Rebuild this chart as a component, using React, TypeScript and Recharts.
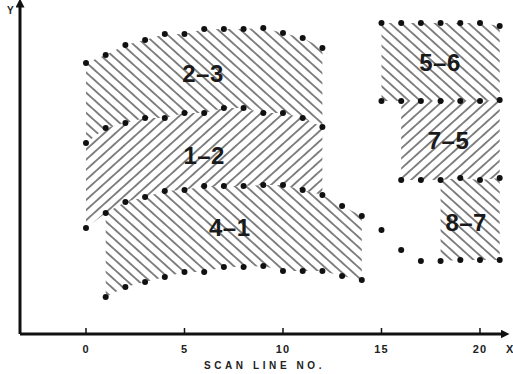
import React from 'react';
import { ComposedChart, XAxis, YAxis, Area, Line, ReferenceDot, Label } from 'recharts';

// scan line numbers where each row of dots starts
const scanTicks = [0, 5, 10, 15, 20];

// heights of the dot rows above the X axis (arbitrary units)
const rowTop23 = [271, 279, 289, 294, 300, 300, 305, 305, 305, 306, 301, 296, 286]; // lines 0-12
const row23to12 = [191, 206, 211, 216, 216, 221, 221, 226, 226, 221, 221, 216, 207]; // lines 0-12
const row12to41 = [106, 121, 132, 137, 143, 144, 148, 148, 148, 149, 149, 144, 139, 128, 118, 104, 84, 73, 73, 74, 74, 74]; // lines 0-21
const rowBottom41 = [37, 47, 52, 57, 62, 62, 67, 67, 68, 63, 63, 63, 58, 54]; // lines 1-14
const rowTop56 = [311, 311, 311, 311, 311, 311, 308]; // lines 15-21
const row56to75 = [233, 233, 233, 233, 233, 233, 234]; // lines 15-21
const row75to87 = [154, 154, 154, 156, 154, 156]; // lines 16-21

const regionLabels = [
  { text: '2–3', x: 5.94, y: 261 },
  { text: '1–2', x: 6.0, y: 179 },
  { text: '4–1', x: 7.3, y: 107 },
  { text: '5–6', x: 17.97, y: 272 },
  { text: '7–5', x: 18.4, y: 194 },
  { text: '8–7', x: 19.3, y: 112 },
];

const pts = (start: number, arr: number[]) => arr.map((y, i) => ({ x: start + i, y }));

// range band between two rows, for scan lines from..to
const band = (from: number, to: number, lo: number[], loStart: number, hi: number[], hiStart: number) => {
  const out = [];
  for (let x = from; x <= to; x++) out.push({ x, r: [lo[x - loStart], hi[x - hiStart]] });
  return out;
};

const regions = [
  { id: 'r23', data: band(0, 12, row23to12, 0, rowTop23, 0), fill: 'url(#hatchBack)' },
  { id: 'r12', data: band(0, 12, row12to41, 0, row23to12, 0), fill: 'url(#hatchFwd)' },
  { id: 'r41', data: band(1, 14, rowBottom41, 1, row12to41, 0), fill: 'url(#hatchBack)' },
  { id: 'r56', data: band(15, 21, row56to75, 15, rowTop56, 15), fill: 'url(#hatchBack)' },
  { id: 'r75', data: band(16, 21, row75to87, 16, row56to75, 15), fill: 'url(#hatchFwd)' },
  { id: 'r87', data: band(18, 21, row12to41, 0, row75to87, 16), fill: 'url(#hatchBack)' },
];

const dotRows = [
  pts(0, rowTop23),
  pts(0, row23to12),
  pts(0, row12to41),
  pts(1, rowBottom41),
  pts(15, rowTop56),
  pts(15, row56to75),
  pts(16, row75to87),
];

const font = '"Liberation Sans", Arial, sans-serif';

const ScanTick = (p: any) => (
  <g>
    <line x1={p.x} x2={p.x} y1={p.y - 6} y2={p.y} stroke="#111" strokeWidth={1.5} />
    <text x={p.x} y={p.y + 19} textAnchor="middle" fontSize={11} fontWeight="bold" fontFamily={font} fill="#222" letterSpacing={1}>
      {p.payload.value}
    </text>
  </g>
);

export default function App() {
  return (
    <div style={{ position: 'absolute', left: 0, top: 0, background: '#fff' }}>
      <ComposedChart width={513} height={374} margin={{ top: 3, right: 8, bottom: 0, left: 19 }}>
        <defs>
          <pattern id="hatchBack" patternUnits="userSpaceOnUse" width="7.5" height="7.5" patternTransform="rotate(-48)">
            <line x1="3.75" y1="0" x2="3.75" y2="7.5" stroke="#333" strokeWidth="1.2" />
          </pattern>
          <pattern id="hatchFwd" patternUnits="userSpaceOnUse" width="7.5" height="7.5" patternTransform="rotate(48)">
            <line x1="3.75" y1="0" x2="3.75" y2="7.5" stroke="#333" strokeWidth="1.2" />
          </pattern>
          <marker id="arrowHead" viewBox="0 0 10 10" refX="5" refY="5" markerWidth="3" markerHeight="3" orient="auto-start-reverse">
            <path d="M0,0 L10,5 L0,10 z" fill="#111" />
          </marker>
        </defs>
        <XAxis
          dataKey="x"
          type="number"
          domain={[-3.35, 21.27]}
          ticks={scanTicks}
          allowDataOverflow
          height={40}
          tickSize={0}
          tickMargin={0}
          tickLine={false}
          tick={<ScanTick />}
          axisLine={{ stroke: '#111', strokeWidth: 3, markerEnd: 'url(#arrowHead)' }}
        >
          <Label
            content={(props: any) => {
              const vb = props.viewBox;
              return (
                <g fontFamily={font} fontWeight="bold" fill="#222">
                  <text x={vb.x + vb.width / 2 + 2} y={vb.y + 35} textAnchor="middle" fontSize={10} letterSpacing={3.6}>
                    SCAN LINE NO.
                  </text>
                  <text x={vb.x + vb.width + 1} y={vb.y + 19} fontSize={11}>
                    X
                  </text>
                </g>
              );
            }}
          />
        </XAxis>
        <YAxis
          type="number"
          domain={[0, 331]}
          allowDataOverflow
          width={1}
          tick={false}
          tickLine={false}
          axisLine={{ stroke: '#111', strokeWidth: 3, markerStart: 'url(#arrowHead)' }}
        >
          <Label
            content={(props: any) => {
              const vb = props.viewBox;
              return (
                <text x={vb.x - 12} y={vb.y + 11} fontFamily={font} fontWeight="bold" fontSize={10} fill="#222">
                  Y
                </text>
              );
            }}
          />
        </YAxis>
        {regions.map((r) => (
          <Area
            key={r.id}
            data={r.data}
            dataKey="r"
            type="linear"
            fill={r.fill}
            fillOpacity={1}
            stroke="none"
            dot={false}
            activeDot={false}
            isAnimationActive={false}
          />
        ))}
        {dotRows.map((row, i) => (
          <Line
            key={i}
            data={row}
            dataKey="y"
            stroke="none"
            dot={{ r: 3, fill: '#111', stroke: 'none' }}
            activeDot={false}
            isAnimationActive={false}
          />
        ))}
        {regionLabels.map((l) => (
          <ReferenceDot key={l.text} x={l.x} y={l.y} r={0} fill="none" stroke="none">
            <Label
              value={l.text}
              position="center"
              fontSize={24}
              fontWeight="bold"
              fontFamily={font}
              fill="#1a1a1a"
              letterSpacing={0.5}
            />
          </ReferenceDot>
        ))}
      </ComposedChart>
    </div>
  );
}
